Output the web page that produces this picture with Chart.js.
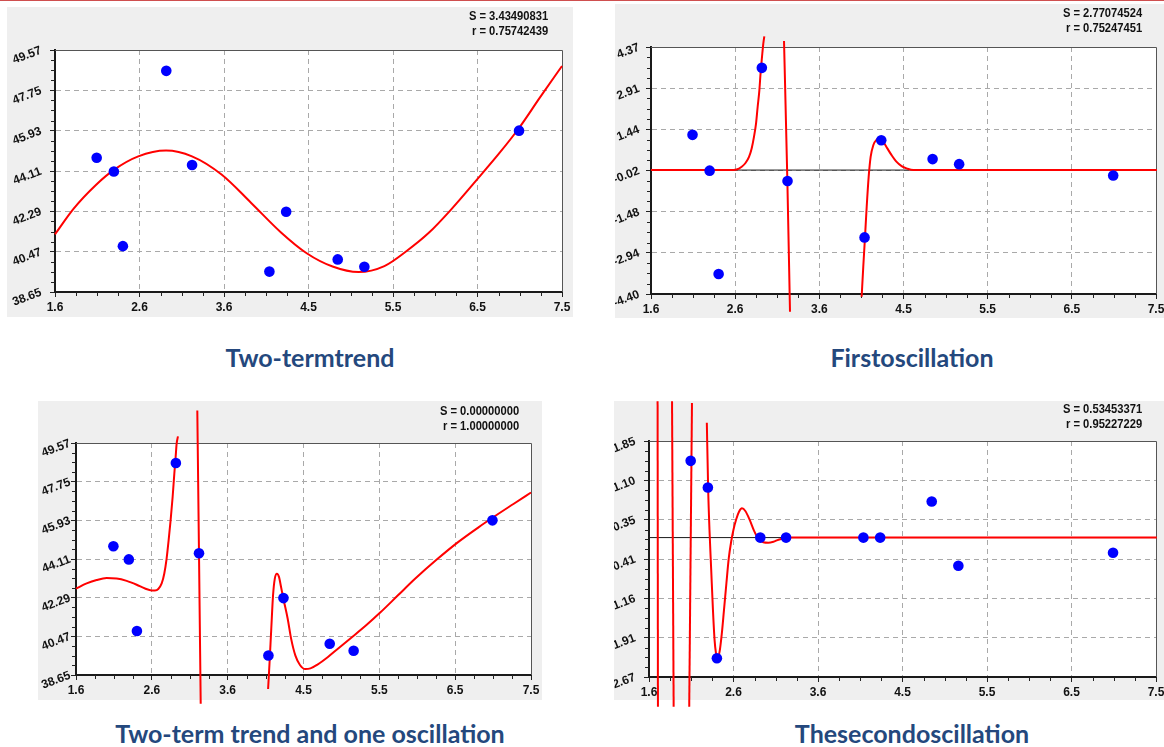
<!DOCTYPE html>
<html>
<head>
<meta charset="utf-8">
<title>Trend and oscillations</title>
<script src="https://cdn.jsdelivr.net/npm/chart.js@4.4.1/dist/chart.umd.min.js"></script>
<style>
  body { margin: 0; background: #fff; }
  #page { position: relative; width: 1164px; height: 747px; overflow: hidden; font-family: "Liberation Sans", Arial, sans-serif; }
  .redline { position: absolute; left: 0; top: 0; width: 1164px; height: 1px; background: #cf4f4f; }
  .panel { position: absolute; background: #efefef; }
  canvas { position: absolute; }
  .stat { position: absolute; font-size: 13px; font-weight: bold; color: #111; line-height: 15px; white-space: nowrap; text-align: right; transform: scaleX(0.86); transform-origin: right center; }
  .title { position: absolute; width: 600px; text-align: center; font-family: Lato, "Open Sans", sans-serif; font-weight: 700; font-size: 25px; line-height: 30px; color: #24487d; white-space: nowrap; }
</style>
</head>
<body>
<div id="page">
  <div class="redline"></div>

  <div class="panel" style="left:7px;top:7px;width:566px;height:310px"></div>
  <div class="panel" style="left:615px;top:4px;width:549px;height:314px"></div>
  <div class="panel" style="left:38px;top:401px;width:504px;height:299px"></div>
  <div class="panel" style="left:614px;top:401px;width:550px;height:299px"></div>

  <canvas id="trend" width="566" height="310" style="left:7px;top:7px"></canvas>
  <canvas id="firstOsc" width="549" height="314" style="left:615px;top:4px"></canvas>
  <canvas id="trendOsc" width="504" height="306" style="left:38px;top:401px"></canvas>
  <canvas id="secondOsc" width="550" height="306" style="left:614px;top:401px"></canvas>

  <div class="stat" style="right:616px;top:8px">S = 3.43490831<br>r = 0.75742439</div>
  <div class="stat" style="right:22px;top:5px">S = 2.77074524<br>r = 0.75247451</div>
  <div class="stat" style="right:645px;top:403px">S = 0.00000000<br>r = 1.00000000</div>
  <div class="stat" style="right:22px;top:401px">S = 0.53453371<br>r = 0.95227229</div>

  <div class="title" style="left:10px;top:342px">Two-termtrend</div>
  <div class="title" style="left:612px;top:342px">Firstoscillation</div>
  <div class="title" style="left:10px;top:718px">Two-term trend and one oscillation</div>
  <div class="title" style="left:612px;top:718px">Thesecondoscillation</div>
</div>

<script>
// axes
const xMin = 1.6, xMax = 7.5;
const xTickLabels = ['1.6', '2.6', '3.6', '4.5', '5.5', '6.5', '7.5'];
const trendTickLabels = ['38.65', '40.47', '42.29', '44.11', '45.93', '47.75', '49.57'];
const firstOscTickLabels = ['-4.40', '-2.94', '-1.48', '-0.02', '1.44', '2.91', '4.37'];
const secondOscTickLabels = ['-2.67', '-1.91', '-1.16', '-0.41', '0.35', '1.10', '1.85'];

// observed points, same x in every panel
const obsX = [2.085, 2.285, 2.39, 2.895, 3.195, 4.095, 4.29, 4.89, 5.2, 7.0];
const trendObsY = [44.71, 44.09, 40.72, 48.63, 44.38, 39.57, 42.27, 40.12, 39.79, 45.93];
const firstOscObsY = [1.25, -0.02, -3.69, 3.63, -0.39, -2.39, 1.06, 0.39, 0.21, -0.19];
const secondOscObsY = [1.47, 0.96, -2.31, 0, 0, 0, 0, 0.69, -0.54, -0.29];

// fitted curves, [x, y]
const trendCurve = [[1.6, 41.25], [1.815, 42.4], [2.082, 43.5], [2.289, 44.17], [2.569, 44.77], [2.892, 45.03],
  [3.194, 44.77], [3.538, 43.95], [3.883, 42.67], [4.227, 41.35], [4.529, 40.4], [4.83, 39.8], [5.132, 39.55],
  [5.433, 39.82], [5.692, 40.5], [5.95, 41.32], [6.209, 42.37], [6.51, 43.72], [6.768, 44.9], [7.0, 46.05],
  [7.242, 47.42], [7.5, 48.85]];

const firstOscCurveA = [[1.6, 0], [2.52, 0], [2.6, 0.02], [2.66, 0.12], [2.706, 0.26], [2.745, 0.47], [2.776, 0.77],
  [2.803, 1.18], [2.827, 1.65], [2.846, 2.24], [2.866, 2.83], [2.881, 3.48], [2.897, 4.02], [2.912, 4.49], [2.924, 4.75]];
const firstOscCurveB = [[3.154, 4.58], [3.193, -0.36], [3.224, -5.03]];
const firstOscCurveC = [[4.061, -4.5], [4.08, -3.43], [4.1, -2.39], [4.12, -1.3], [4.143, -0.24], [4.166, 0.47],
  [4.197, 0.88], [4.236, 1.08], [4.275, 1.12], [4.314, 1.0], [4.361, 0.77], [4.411, 0.53], [4.47, 0.29],
  [4.528, 0.14], [4.587, 0.06], [4.665, 0], [7.51, 0]];

const trendOscCurveA = [[1.6, 42.72], [1.738, 42.96], [1.868, 43.12], [1.998, 43.21], [2.127, 43.19], [2.257, 43.08],
  [2.387, 42.9], [2.495, 42.72], [2.581, 42.63], [2.624, 42.63], [2.667, 42.7], [2.711, 42.96], [2.745, 43.43],
  [2.775, 44.13], [2.801, 44.99], [2.827, 45.94], [2.853, 47.03], [2.875, 48.13], [2.892, 48.91], [2.905, 49.54],
  [2.922, 49.88]];
const trendOscCurveB = [[3.173, 51.1], [3.195, 44.34], [3.217, 37.3]];
const trendOscCurveC = [[4.091, 37.99], [4.11, 39.25], [4.132, 40.82], [4.155, 42.4], [4.178, 43.19], [4.205, 43.42],
  [4.232, 43.27], [4.259, 42.79], [4.29, 42.23], [4.345, 41.3], [4.39, 40.35], [4.445, 39.56], [4.504, 39.12],
  [4.572, 38.93], [4.64, 38.96], [4.731, 39.14], [4.867, 39.5], [5.0, 39.9], [5.185, 40.45], [5.366, 41.0],
  [5.548, 41.6], [5.775, 42.4], [6.0, 43.19], [6.274, 44.07], [6.546, 44.88], [6.819, 45.6], [7.0, 46.05],
  [7.272, 46.7], [7.5, 47.24]];

const secondOscLine1 = [[1.700, 2.61], [1.704, -3.24]];
const secondOscLine2 = [[1.868, 2.61], [1.887, -3.24]];
const secondOscLine3 = [[2.1, 2.58], [2.068, -3.24]];
const secondOscCurve = [[2.273, 2.2], [2.288, 0.96], [2.304, 0.14], [2.324, -0.62], [2.344, -1.38], [2.363, -1.96],
  [2.379, -2.21], [2.399, -2.31], [2.422, -2.18], [2.446, -1.86], [2.473, -1.38], [2.501, -0.87], [2.528, -0.4],
  [2.556, -0.08], [2.583, 0.15], [2.615, 0.35], [2.646, 0.49], [2.682, 0.56], [2.721, 0.51], [2.772, 0.34],
  [2.823, 0.13], [2.871, -0.015], [2.93, -0.09], [2.989, -0.1], [3.048, -0.08], [3.107, -0.04], [3.185, -0.008],
  [3.264, 0], [7.51, 0]];

const zeroLineX = [1.6, 7.5];

const fontFamily = "'Liberation Sans', Arial, sans-serif";

function evenTicks(min, max, n) {
  const out = [];
  for (let i = 0; i < n; i++) out.push({value: min + i * (max - min) / (n - 1)});
  return out;
}

function gridColor(ctx) {
  return (ctx.index === 0 || ctx.index === 6) ? 'rgba(0,0,0,0)' : '#a9a9a9';
}

/* white plot area, thin top/right frame and minor ticks */
const framePlugin = {
  id: 'frame',
  beforeDraw(chart) {
    const a = chart.chartArea;
    chart.ctx.save();
    chart.ctx.fillStyle = '#ffffff';
    chart.ctx.fillRect(a.left, a.top, a.right - a.left, a.bottom - a.top);
    chart.ctx.restore();
  },
  beforeDatasetsDraw(chart) {
    const {ctx, chartArea: a, scales} = chart;
    ctx.save();
    ctx.strokeStyle = '#555';
    ctx.lineWidth = 1;
    ctx.beginPath();
    ctx.moveTo(a.left, Math.round(a.top) + 0.5);
    ctx.lineTo(Math.round(a.right) + 0.5, Math.round(a.top) + 0.5);
    ctx.lineTo(Math.round(a.right) + 0.5, a.bottom);
    ctx.stroke();

    ctx.strokeStyle = '#222';
    ctx.beginPath();
    for (const s of [scales.x, scales.y]) {
      const t = s.ticks;
      for (let i = 0; i < t.length - 1; i++) {
        for (let k = 1; k < 4; k++) {
          const p = Math.round(s.getPixelForValue(t[i].value + (t[i + 1].value - t[i].value) * k / 4)) + 0.5;
          if (s.axis === 'x') {
            ctx.moveTo(p, a.bottom);
            ctx.lineTo(p, a.bottom + 4);
          } else {
            ctx.moveTo(a.left - 4, p);
            ctx.lineTo(a.left, p);
          }
        }
      }
    }
    ctx.stroke();
    ctx.restore();
  }
};

function makeChart(id, box, yLabels, obsY, curves, withZero) {
  const yMin = parseFloat(yLabels[0]);
  const yMax = parseFloat(yLabels[yLabels.length - 1]);

  const datasets = [{
    type: 'scatter',
    data: obsX.map((x, i) => ({x: x, y: obsY[i]})),
    backgroundColor: '#0000ff',
    borderWidth: 0,
    pointRadius: 5.3,
    pointHoverRadius: 5.3,
    clip: false,
    order: 0
  }];
  for (const c of curves) {
    datasets.push({
      type: 'line',
      data: c.map(p => ({x: p[0], y: p[1]})),
      borderColor: '#ff0000',
      borderWidth: 2,
      pointRadius: 0,
      fill: false,
      cubicInterpolationMode: 'monotone',
      clip: false,
      order: 1
    });
  }
  if (withZero) {
    datasets.push({
      type: 'line',
      data: zeroLineX.map(x => ({x: x, y: 0})),
      borderColor: '#1a1a1a',
      borderWidth: 1,
      pointRadius: 0,
      fill: false,
      clip: false,
      order: 2
    });
  }

  return new Chart(document.getElementById(id), {
    type: 'scatter',
    data: {datasets: datasets},
    options: {
      responsive: false,
      animation: false,
      events: [],
      layout: {
        autoPadding: false,
        padding: {left: 0, top: box.top, right: box.w - box.right, bottom: 0}
      },
      plugins: {legend: {display: false}, tooltip: {enabled: false}},
      scales: {
        x: {
          type: 'linear',
          min: xMin,
          max: xMax,
          afterBuildTicks: s => { s.ticks = evenTicks(xMin, xMax, xTickLabels.length); },
          afterFit: s => { s.height = box.h - box.bottom; s.paddingLeft = 0; s.paddingRight = 0; },
          ticks: {
            autoSkip: false,
            maxRotation: 0,
            padding: 3,
            color: '#111',
            font: {family: fontFamily, size: 12, weight: 'bold'},
            callback: (v, i) => xTickLabels[i]
          },
          grid: {color: gridColor, lineWidth: 1, tickLength: 5, tickColor: '#222', tickWidth: 1},
          border: {color: '#1a1a1a', width: 2, dash: [5, 4]}
        },
        y: {
          type: 'linear',
          min: yMin,
          max: yMax,
          afterBuildTicks: s => { s.ticks = evenTicks(yMin, yMax, yLabels.length); },
          afterFit: s => { s.width = box.left; s.paddingTop = 0; s.paddingBottom = 0; },
          ticks: {
            autoSkip: false,
            minRotation: 21,
            maxRotation: 21,
            padding: box.labelPad,
            color: '#111',
            font: {family: fontFamily, size: 12, weight: 'bold'},
            callback: (v, i) => yLabels[i]
          },
          grid: {color: gridColor, lineWidth: 1, tickLength: 5, tickColor: '#222', tickWidth: 1},
          border: {color: '#1a1a1a', width: 2, dash: [5, 4]}
        }
      }
    },
    plugins: [framePlugin]
  });
}

makeChart('trend', {w: 566, h: 310, left: 48, top: 43, right: 555, bottom: 285, labelPad: 9},
  trendTickLabels, trendObsY, [trendCurve], false);
makeChart('firstOsc', {w: 549, h: 314, left: 36, top: 43, right: 541, bottom: 290, labelPad: 7},
  firstOscTickLabels, firstOscObsY, [firstOscCurveA, firstOscCurveB, firstOscCurveC], true);
makeChart('trendOsc', {w: 504, h: 306, left: 38, top: 42, right: 493, bottom: 274, labelPad: 1},
  trendTickLabels, trendObsY, [trendOscCurveA, trendOscCurveB, trendOscCurveC], false);
makeChart('secondOsc', {w: 550, h: 306, left: 35, top: 40, right: 542, bottom: 276, labelPad: 9},
  secondOscTickLabels, secondOscObsY, [secondOscLine1, secondOscLine2, secondOscLine3, secondOscCurve], true);
</script>
</body>
</html>
